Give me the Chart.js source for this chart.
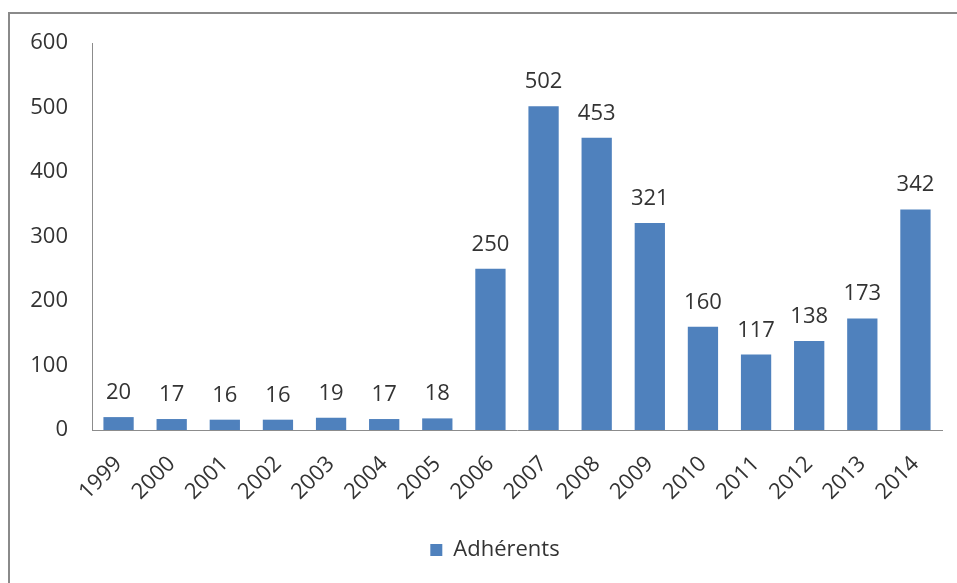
<!DOCTYPE html>
<html>
<head>
<meta charset="utf-8">
<title>Adhérents</title>
<script src="https://cdn.jsdelivr.net/npm/chart.js@4/dist/chart.umd.min.js"></script>
<style>
  html, body { margin: 0; padding: 0; background: #fff; }
  .frame {
    position: absolute; left: 8px; top: 12px; width: 960px; height: 580px;
    border-top: 2px solid #8a8a8a; border-left: 2px solid #8a8a8a;
  }
  .chart-box { position: absolute; left: 0; top: 0; width: 957px; height: 583px; }
</style>
</head>
<body>
<div class="frame"></div>
<div class="chart-box"><canvas id="chart"></canvas></div>
<script>
const years = ["1999", "2000", "2001", "2002", "2003", "2004", "2005", "2006",
  "2007", "2008", "2009", "2010", "2011", "2012", "2013", "2014"];
const adherents = [20, 17, 16, 16, 19, 17, 18, 250, 502, 453, 321, 160, 117, 138, 173, 342];
const seriesName = "Adhérents";

const textColor = "#333333";
const fontFamily = "'Open Sans', 'Liberation Sans', sans-serif";

// draws the value above each bar
const valueLabels = {
  id: "valueLabels",
  afterDatasetsDraw(chart) {
    const ctx = chart.ctx;
    const meta = chart.getDatasetMeta(0);
    ctx.save();
    ctx.font = "22px " + fontFamily;
    ctx.fillStyle = textColor;
    ctx.textAlign = "center";
    ctx.textBaseline = "alphabetic";
    meta.data.forEach((bar, i) => {
      ctx.fillText(String(adherents[i]), bar.x, bar.y - 18);
    });
    ctx.restore();
  },
};

// the original legend sits a bit right of the canvas centre
const legendShift = {
  id: "legendShift",
  afterLayout(chart) {
    if (chart.legend) {
      chart.legend.left += 48;
      chart.legend.right += 0;
    }
  },
};

new Chart(document.getElementById("chart"), {
  type: "bar",
  data: {
    labels: years,
    datasets: [
      {
        label: seriesName,
        data: adherents,
        backgroundColor: "#4f81bd",
        categoryPercentage: 1,
        barPercentage: 0.57,
      },
    ],
  },
  options: {
    responsive: true,
    maintainAspectRatio: false,
    animation: false,
    layout: { padding: { top: 43, right: 15, left: 0, bottom: 12 } },
    plugins: {
      tooltip: { enabled: false },
      legend: {
        position: "bottom",
        labels: {
          color: textColor,
          font: { family: fontFamily, size: 22 },
          boxWidth: 12,
          boxHeight: 12,
          padding: 8,
        },
      },
    },
    scales: {
      x: {
        grid: { display: false },
        border: { color: "#8c8c8c", width: 1 },
        ticks: {
          color: textColor,
          font: { family: fontFamily, size: 22 },
          minRotation: 45,
          maxRotation: 45,
          padding: 13,
        },
        afterFit: (scale) => { scale.height = 101; },
      },
      y: {
        min: 0,
        max: 600,
        grid: { display: false, drawTicks: false },
        border: { color: "#8c8c8c", width: 1 },
        ticks: {
          stepSize: 100,
          color: textColor,
          font: { family: fontFamily, size: 22 },
          padding: 24,
        },
        afterFit: (scale) => { scale.width = 92; },
      },
    },
  },
  plugins: [valueLabels, legendShift],
});
</script>
</body>
</html>
